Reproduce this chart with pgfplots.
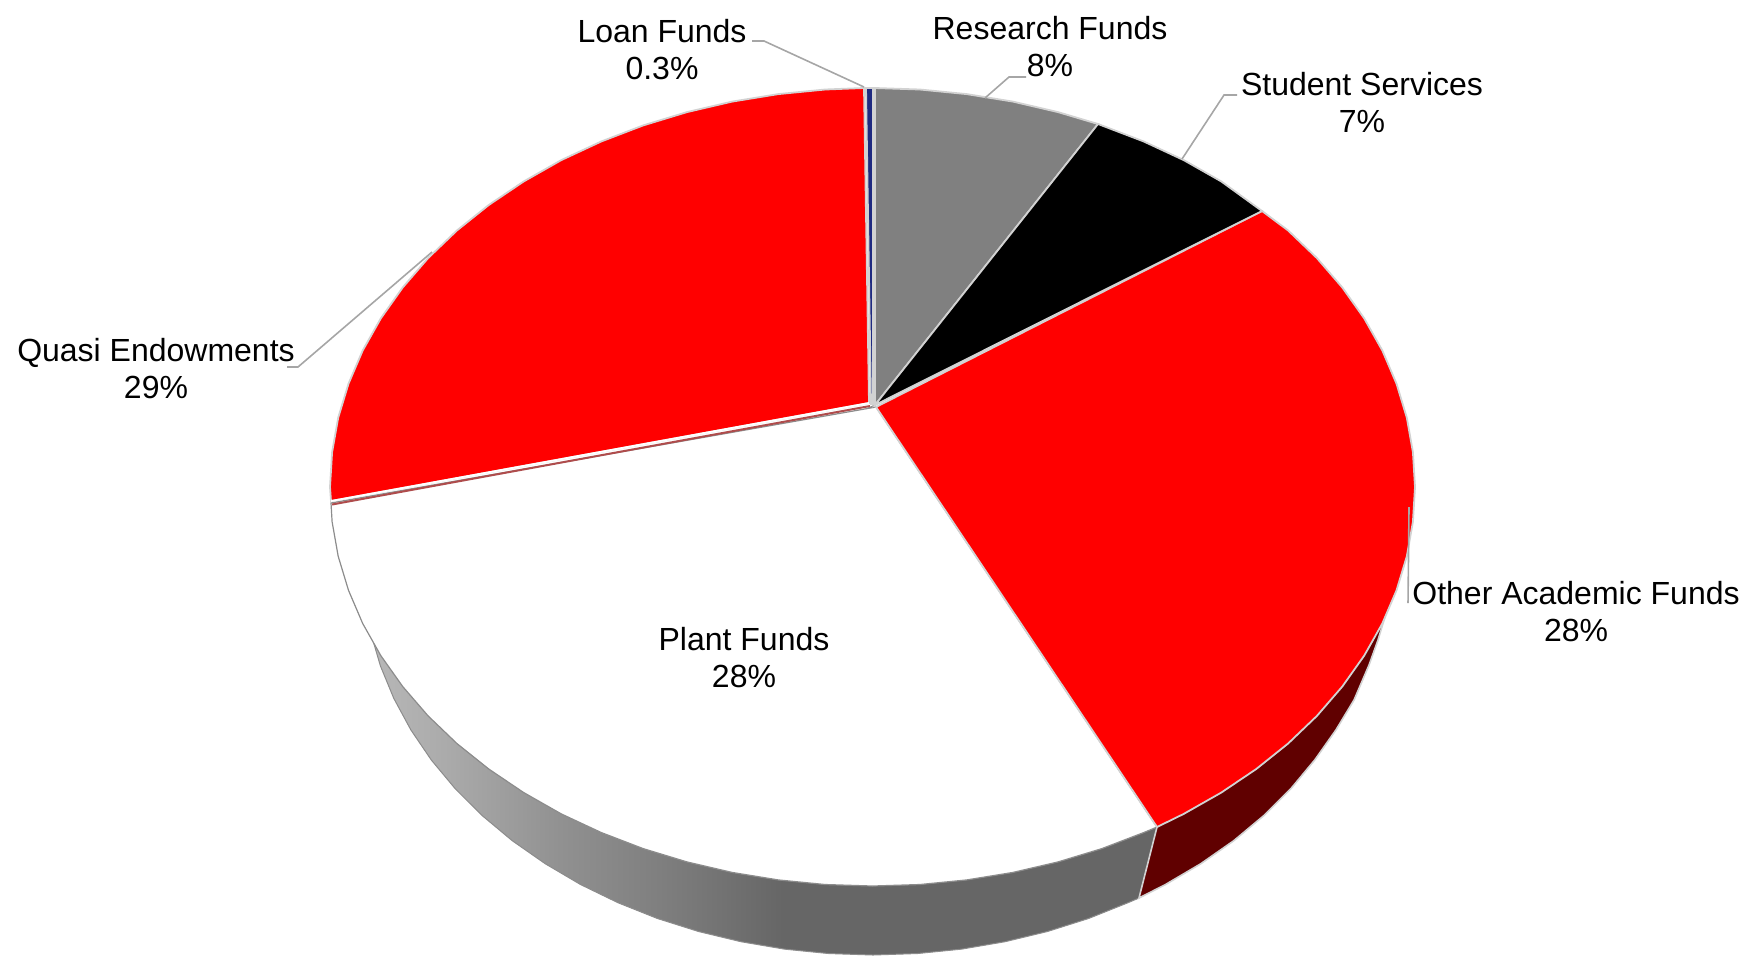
\documentclass[border=0pt]{standalone}
\usepackage{fontspec}
\setmainfont{Liberation Sans}
\usepackage{pgfplots}
\pgfplotsset{compat=1.18}
\definecolor{rim}{HTML}{D2D2D2}
\definecolor{leader}{HTML}{A6A6A6}
\definecolor{loan}{HTML}{1F2A80}
\definecolor{walldark}{HTML}{600000}
\pgfdeclarehorizontalshading{wallgray}{100bp}{
  color(0bp)=(black!28); color(25bp)=(black!28); color(29.7bp)=(black!33);
  color(37.3bp)=(black!43.5); color(43.6bp)=(black!50.5); color(51.2bp)=(black!60);
  color(75bp)=(black!60); color(100bp)=(black!60)}
\tikzset{lab/.style={align=center, text=black, inner sep=0pt,
  font=\fontsize{16}{18.5}\selectfont}}
\begin{document}
\begin{tikzpicture}
\begin{axis}[
  name=ax,
  hide axis, scale only axis,
  width=874pt, height=482.5pt,
  xmin=0, xmax=1748, ymin=0, ymax=965,
  y dir=reverse,
]
% side wall, gray part
\addplot[shade, shading=wallgray, draw=black!45, line width=0.5pt] coordinates {
  (370.7,632.7)(380.4,665.9)(393.8,698.4)(410.8,729.8)(431.3,760)(455.2,788.7)
  (482.3,815.7)(512.4,840.8)(545.2,863.7)(580.5,884.5)(618,902.7)(657.5,918.5)
  (698.6,931.5)(741,941.7)(784.4,949.1)(828.5,953.5)(873,955)(917.5,953.5)
  (961.6,949.1)(1005,941.7)(1047.4,931.5)(1088.5,918.5)(1128,902.7)(1139,898)
  (1157,827)(875,405)
} --cycle;
% side wall, dark red part
\addplot[fill=walldark, draw=rim, line width=0.8pt] coordinates {
  (1139,898)(1165.5,884.5)(1200.8,863.7)(1233.6,840.8)(1263.7,815.7)(1290.8,788.7)
  (1314.7,760)(1336,729.8)(1354,700)(1369,665)(1378,640)(1384,620)(1157,827)
} --cycle;
% Plant Funds
\addplot[fill=white, draw=black!45, line width=0.6pt] coordinates {
  (876,407)(1157,827)(1143.8,832.5)(1101.8,848.6)(1058,861.9)(1012.9,872.4)
  (966.7,879.9)(919.8,884.5)(872.5,886)(825.2,884.5)(778.3,879.9)(732.1,872.4)
  (687,861.9)(643.2,848.6)(601.2,832.5)(561.3,813.9)(523.8,792.6)(488.9,769.1)
  (456.9,743.5)(428.1,715.9)(402.7,686.5)(380.8,655.6)(362.7,623.5)(348.5,590.3)
  (338.2,556.3)(332.1,521.8)(331,503)
} --cycle;
% Other Academic Funds
\addplot[fill=red, draw=rim, line width=0.9pt] coordinates {
  (876,407)(1262,211)(1288.1,230.5)(1316.9,258.1)(1342.3,287.5)(1364.2,318.4)
  (1382.3,350.5)(1396.5,383.7)(1406.8,417.7)(1412.9,452.2)(1415,487)(1412.9,521.8)
  (1406.8,556.3)(1396.5,590.3)(1382.3,623.5)(1364.2,655.6)(1342.3,686.5)(1316.9,715.9)
  (1288.1,743.5)(1256.1,769.1)(1221.2,792.6)(1183.7,813.9)(1157,827)
} --cycle;
% Quasi Endowments, with the brown shadow under its lower edge
\addplot[draw=black!45!red!70!white, line width=1pt] coordinates {(332,504.5)(870,406)};
\addplot[fill=red, draw=rim, line width=0.9pt] coordinates {
  (869,403)(331,501)(330,487)(332.1,452.2)(338.2,417.7)(348.5,383.7)(362.7,350.5)
  (380.8,318.4)(402.7,287.5)(428.1,258.1)(456.9,230.5)(488.9,204.9)(523.8,181.4)
  (561.3,160.1)(601.2,141.5)(643.2,125.4)(687,112.1)(732.1,101.6)(778.3,94.1)
  (825.2,89.5)(864,88)
} --cycle;
\addplot[white, line width=0.9pt] coordinates {(869,403)(331,501)};
% Loan Funds
\addplot[fill=loan, draw=rim, line width=0.9pt] coordinates {(866,88)(873,88)(873,404)(871,404)} --cycle;
% Research Funds
\addplot[fill=black!50, draw=rim, line width=0.9pt] coordinates {
  (875,405)(875,88)(919.8,89.5)(966.7,94.1)(1012.9,101.6)(1058,112.1)(1098,124)
} --cycle;
% Student Services
\addplot[fill=black, draw=rim, line width=0.9pt] coordinates {
  (875,405)(1098,124)(1143.8,141.5)(1183.7,160.1)(1221.2,181.4)(1262,211)
} --cycle;
% leader lines
\addplot[leader, line width=0.8pt] coordinates {(752,41)(764,41)(864,87)};
\addplot[leader, line width=0.8pt] coordinates {(1026,77)(1009,77)(985,98)};
\addplot[leader, line width=0.8pt] coordinates {(1237,95)(1224,95)(1182,159)};
\addplot[leader, line width=0.8pt] coordinates {(287,367)(298,367)(432,252)};
\addplot[leader, line width=0.8pt] coordinates {(1409,507)(1408,603)};
% labels
\node[lab] at (axis cs:662,50) {Loan Funds\\0.3\%};
\node[lab] at (axis cs:1050,47) {Research Funds\\8\%};
\node[lab] at (axis cs:1362,102) {Student Services\\7\%};
\node[lab] at (axis cs:156,369) {Quasi Endowments\\29\%};
\node[lab] at (axis cs:1576,612) {Other Academic Funds\\28\%};
\node[lab] at (axis cs:744,658) {Plant Funds\\28\%};
\end{axis}
% hide axis leaves only the ink in the box, so pin it to the full frame
\pgfresetboundingbox
\path[use as bounding box] (ax.south west) rectangle (ax.north east);
\end{tikzpicture}
\end{document}
